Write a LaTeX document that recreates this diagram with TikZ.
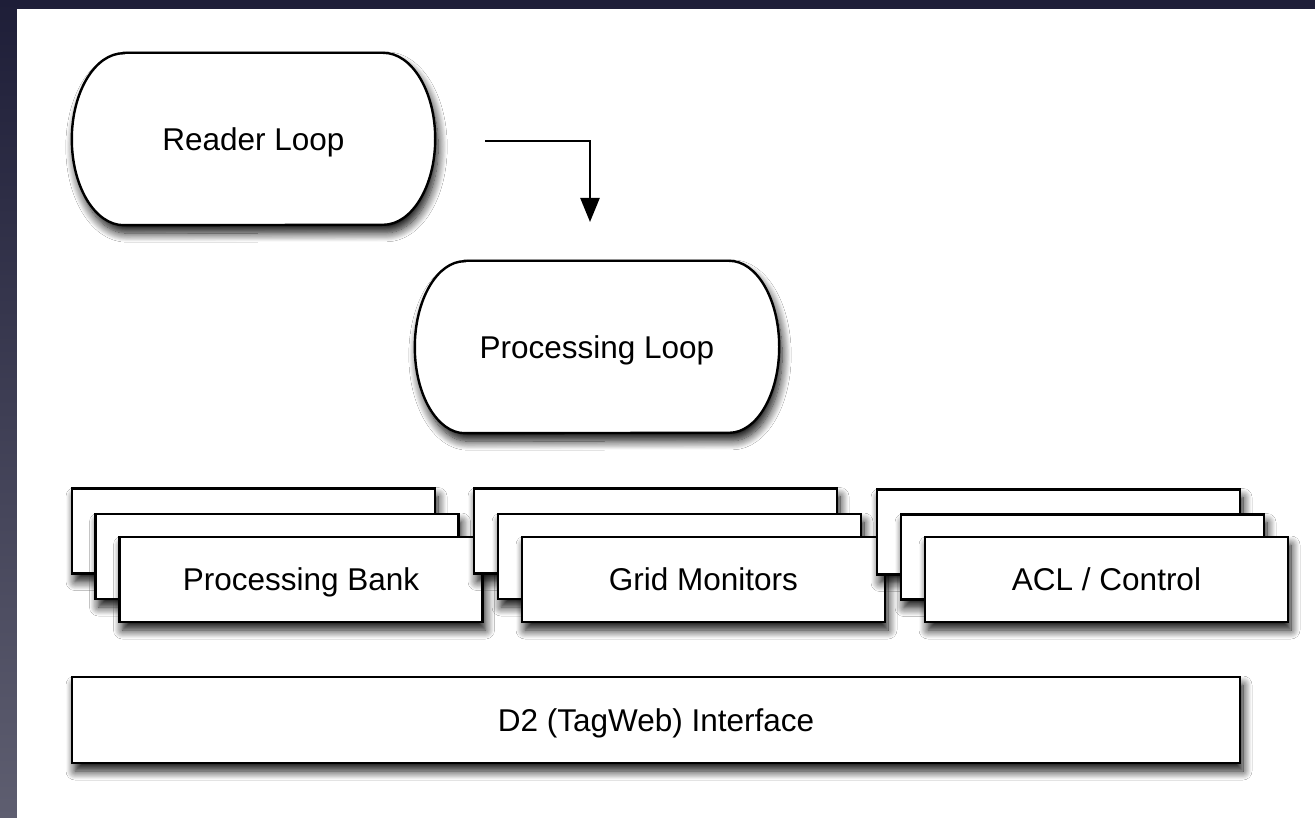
\documentclass[tikz,border=0pt]{standalone}
\usepackage{fontspec}
\setmainfont{Liberation Sans}
\usetikzlibrary{arrows.meta,shadows,shadows.blur}
\definecolor{bgtop}{RGB}{30,30,56}
\definecolor{bgbot}{RGB}{94,94,112}
\newcommand\drawloop[2]{%
  \draw[loopline] ([xshift=#2]#1.north west) -- ([xshift=-#2]#1.north east)
    arc[start angle=90,end angle=-90,x radius=#2,y radius=86pt]
    -- ([xshift=#2]#1.south west)
    arc[start angle=-90,end angle=-270,x radius=#2,y radius=86pt] -- cycle;}
\tikzset{
  myshadow/.style={blur shadow={shadow xshift=3pt,shadow yshift=-8pt,shadow blur radius=9pt,shadow blur steps=12,shadow opacity=95}},
  labeltext/.style={font=\fontsize{31.5}{36}\selectfont,text height=22.6pt,text depth=0pt},
  loopline/.style={draw=black,line width=2.4pt,fill=white,myshadow},
  loopnode/.style={inner sep=0pt,minimum width=363pt,minimum height=172pt},
  stackbox/.style={draw=black,line width=2.6pt,fill=white,myshadow,inner sep=0pt,minimum width=363pt,minimum height=85pt,labeltext},
  arrowline/.style={draw=black,line width=2.4pt,-{Triangle[width=19pt,length=24pt]}}
}
\begin{document}
\begin{tikzpicture}[x=1pt,y=-1pt]
\useasboundingbox (0,0) rectangle (1315,818);
\shade[top color=bgtop,bottom color=bgbot] (0,0) rectangle (1315,818);
\fill[white] (17,9) rectangle (1315,818);

% loops
\node[loopnode] (reader) at (253.5,139) {};
\drawloop{reader}{52pt}
\node[labeltext,inner sep=0pt] (readertext) at (reader.center) {Reader Loop};

\node[loopnode,minimum width=364pt] (proc) at (597,347) {};
\drawloop{proc}{50pt}
\node[labeltext,inner sep=0pt] (proctext) at (proc.center) {Processing Loop};

\coordinate (a0) at (485,141);
\coordinate (a1) at (590,222);
\draw[arrowline] (a0) -| (a1);

% stacks
\node[stackbox] (pb3) at (253.5,531) {};
\node[stackbox] (pb2) at (277,556.5) {};
\node[stackbox] (pb1) at (301,579.5) {Processing Bank};

\node[stackbox] (gm3) at (655.5,531) {};
\node[stackbox] (gm2) at (679.5,556.5) {};
\node[stackbox] (gm1) at (703.5,579.5) {Grid Monitors};

\node[stackbox] (acl3) at (1058.5,532) {};
\node[stackbox] (acl2) at (1082.5,557) {};
\node[stackbox] (acl1) at (1106.5,579.5) {ACL / Control};

\node[stackbox,minimum width=1168pt,minimum height=86pt] (d2) at (656,720) {D2 (TagWeb) Interface};
\end{tikzpicture}
\end{document}
